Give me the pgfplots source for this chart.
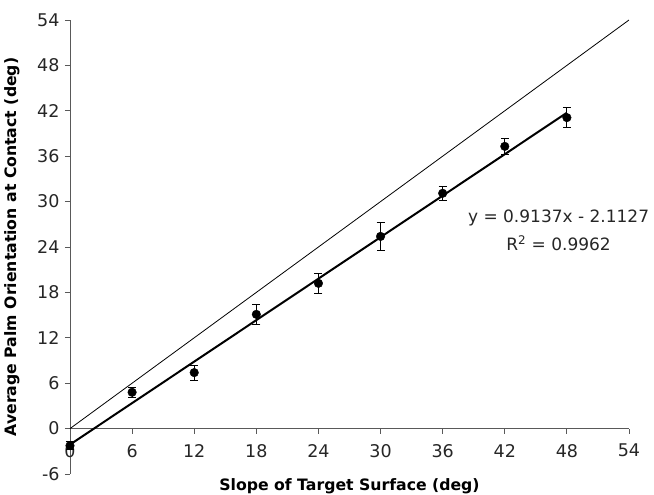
\documentclass[border=0pt]{standalone}
\usepackage{pgfplots}
\pgfplotsset{compat=1.18}
\usepackage{fontspec}
\setmainfont{DejaVu Sans}
\begin{document}
\begin{tikzpicture}
\path[use as bounding box] (-70pt,-21pt) rectangle (584pt,474pt);
\begin{axis}[
  at={(0pt,0pt)}, anchor=south west,
  scale only axis,
  width=559pt, height=454pt,
  xmin=0, xmax=54, ymin=-6, ymax=54,
  axis x line=middle, axis y line=left,
  axis line style={-, black!65, line width=0.9pt},
  every tick/.style={black!65, line width=0.9pt},
  xtick={0,6,...,54}, ytick={-6,0,...,54},
  tick align=outside, major tick length=5pt,
  hide obscured x ticks=false, hide obscured y ticks=false,
  ticklabel style={font=\fontsize{17.5}{20}\selectfont, text=black!85},
  /pgf/number format/assume math mode=true,
  xticklabel style={yshift=-7pt},
  yticklabel style={xshift=-2pt},
  xlabel={Slope of Target Surface (deg)},
  ylabel={Average Palm Orientation at Contact (deg)},
  label style={font=\fontsize{15.7}{18}\selectfont\bfseries},
  xlabel style={at={(axis description cs:0.5,0)}, anchor=north, yshift=-1pt},
  ylabel style={at={(axis description cs:-0.104,0.5)}, anchor=center},
  clip=false,
]
% identity line
\addplot[black, line width=0.8pt] coordinates {(0,0) (54,54)};
% trend line
\addplot[black, line width=2pt] coordinates {(0,-2.1127) (48,41.7449)};
% data with error bars
\addplot[black, only marks, mark=*, mark size=4.3pt,
  error bars/.cd, y dir=both, y explicit,
  error bar style={line width=0.8pt, black},
  error mark options={rotate=90, mark size=4pt, line width=0.8pt}]
coordinates {
  (0,-2.25) +- (0,0.5)
  (6,4.8) +- (0,0.66)
  (12,7.4) +- (0,1.0)
  (18,15.1) +- (0,1.3)
  (24,19.2) +- (0,1.3)
  (30,25.4) +- (0,1.8)
  (36,31.1) +- (0,0.9)
  (42,37.3) +- (0,1.05)
  (48,41.1) +- (0,1.35)
};
\node[align=center, font=\fontsize{17}{28}\selectfont, text=black!85] at (axis cs:47.2,26.2)
  {y = 0.9137x - 2.1127\\R\textsuperscript{2} = 0.9962};
\end{axis}
\end{tikzpicture}
\end{document}
